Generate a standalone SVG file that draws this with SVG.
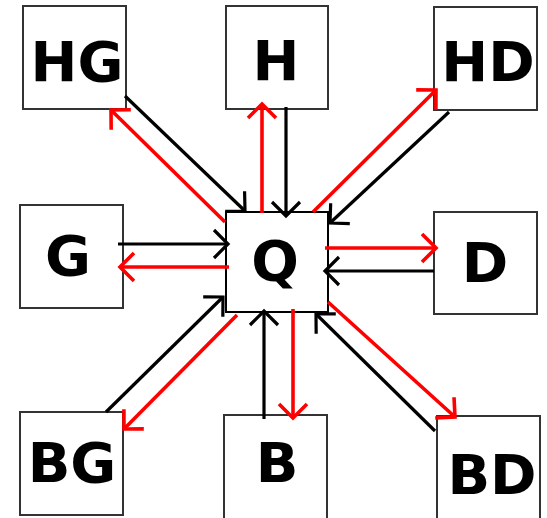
<svg xmlns="http://www.w3.org/2000/svg" width="547" height="518" viewBox="0 0 547 518">
<style>
.box{fill:#fff;stroke:#333;stroke-width:2}
.q{fill:#fff;stroke:#000;stroke-width:2}
.lbl{font-family:"DejaVu Sans","Liberation Sans",sans-serif;font-weight:bold;font-size:56px;text-anchor:middle;fill:#000}
.blk{stroke:#000;stroke-width:3.2;fill:none}
.red{stroke:#f00;stroke-width:3.6;fill:none}
</style>
<defs>
<marker id="ab" markerUnits="userSpaceOnUse" viewBox="-20 -20 40 40" markerWidth="40" markerHeight="40" refX="0" refY="0" orient="auto" overflow="visible">
<path d="M-14,-14 L0,0 L-14,14" fill="none" stroke="#000" stroke-width="3.2"/>
</marker>
<marker id="ar" markerUnits="userSpaceOnUse" viewBox="-20 -20 40 40" markerWidth="40" markerHeight="40" refX="0" refY="0" orient="auto" overflow="visible">
<path d="M-14,-14 L0,0 L-14,14" fill="none" stroke="#f00" stroke-width="3.6"/>
</marker>
</defs>
<rect width="547" height="518" fill="#fff"/>
<g id="HG"><rect class="box" x="23" y="6" width="103" height="103"/><text class="lbl" x="77" y="81">HG</text></g>
<g id="H"><rect class="box" x="226" y="6" width="102" height="103"/><text class="lbl" x="276" y="80">H</text></g>
<g id="HD"><rect class="box" x="434" y="7" width="103" height="103"/><text class="lbl" x="488" y="81">HD</text></g>
<g id="G"><rect class="box" x="20" y="205" width="103" height="103"/><text class="lbl" x="68" y="275">G</text></g>
<g id="Q"><rect class="q" x="226" y="212" width="102" height="100"/><text class="lbl" x="275" y="280">Q</text></g>
<g id="D"><rect class="box" x="434" y="212" width="103" height="102"/><text class="lbl" x="485" y="282">D</text></g>
<g id="BG"><rect class="box" x="20" y="412" width="103" height="103"/><text class="lbl" x="72" y="482">BG</text></g>
<g id="B"><rect class="box" x="224" y="415" width="103" height="104"/><text class="lbl" x="277" y="482">B</text></g>
<g id="BD"><rect class="box" x="437" y="416" width="103" height="104"/><text class="lbl" x="492" y="494">BD</text></g>
<g id="connectors">
<line class="blk" x1="125" y1="96" x2="245" y2="211" marker-end="url(#ab)"/>
<line class="blk" x1="286" y1="107" x2="286" y2="216" marker-end="url(#ab)"/>
<line class="blk" x1="449" y1="112" x2="330" y2="223" marker-end="url(#ab)"/>
<line class="blk" x1="118" y1="244" x2="228" y2="244" marker-end="url(#ab)"/>
<line class="blk" x1="434" y1="271" x2="325" y2="271" marker-end="url(#ab)"/>
<line class="blk" x1="106" y1="412" x2="223" y2="297" marker-end="url(#ab)"/>
<line class="blk" x1="264" y1="419" x2="264" y2="311" marker-end="url(#ab)"/>
<line class="blk" x1="435" y1="431" x2="316" y2="314" marker-end="url(#ab)"/>
<line class="red" x1="225" y1="222" x2="111" y2="110" marker-end="url(#ar)"/>
<line class="red" x1="262" y1="213" x2="262" y2="104" marker-end="url(#ar)"/>
<line class="red" x1="313" y1="212" x2="436" y2="90" marker-end="url(#ar)"/>
<line class="red" x1="325" y1="248" x2="436" y2="248" marker-end="url(#ar)"/>
<line class="red" x1="229" y1="267" x2="120" y2="267" marker-end="url(#ar)"/>
<line class="red" x1="237" y1="315" x2="124" y2="429" marker-end="url(#ar)"/>
<line class="red" x1="293" y1="309" x2="293" y2="418" marker-end="url(#ar)"/>
<line class="red" x1="328" y1="302" x2="455" y2="417" marker-end="url(#ar)"/>
</g>
</svg>
